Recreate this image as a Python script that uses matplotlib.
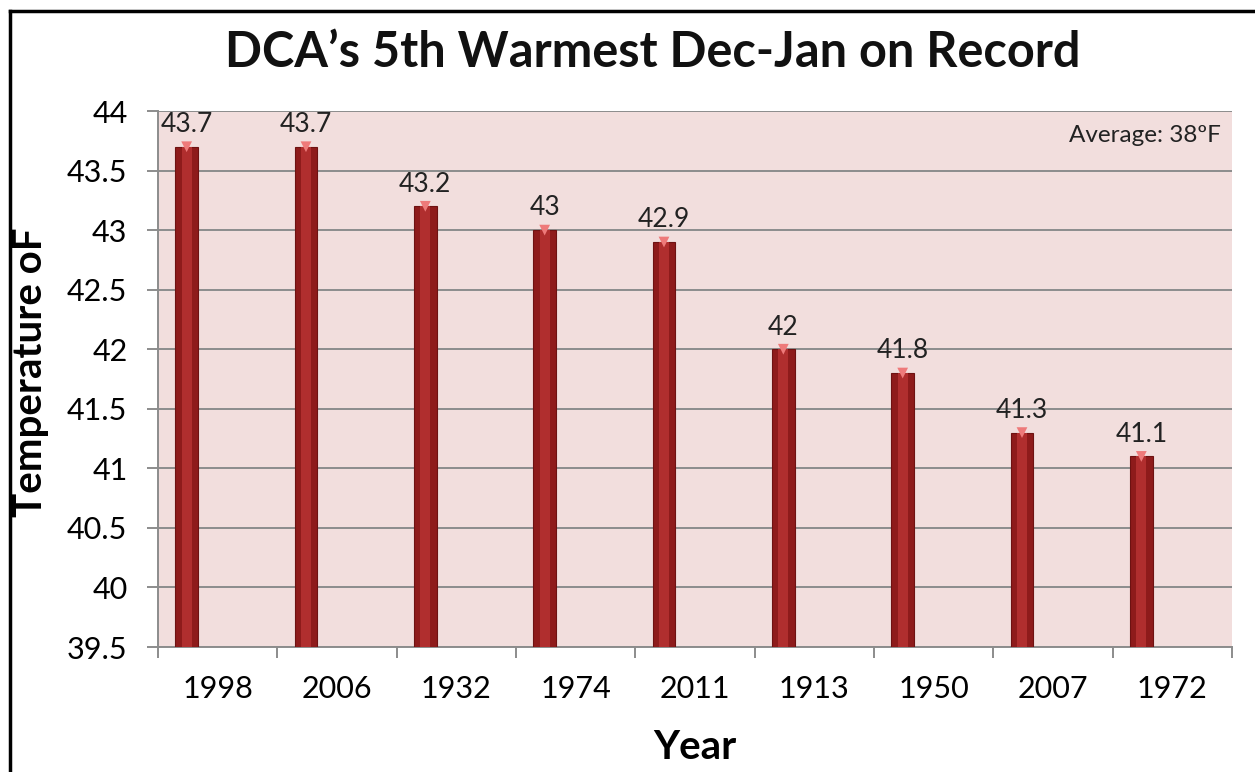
import numpy as np
import matplotlib
matplotlib.use("Agg")
import matplotlib.pyplot as plt
from matplotlib.lines import Line2D

plt.rcParams['font.family'] = ['Lato', 'DejaVu Sans']

# data
years = ["1998", "2006", "1932", "1974", "2011", "1913", "1950", "2007", "1972"]
temps = [43.7, 43.7, 43.2, 43.0, 42.9, 42.0, 41.8, 41.3, 41.1]
labels = ["43.7", "43.7", "43.2", "43", "42.9", "42", "41.8", "41.3", "41.1"]
y_ticks = [39.5, 40, 40.5, 41, 41.5, 42, 42.5, 43, 43.5, 44]

BASE = 39.5
BAR_W = 0.19
SHIFT = -0.26   # bars sit left of the category centre (Excel clustered look)

fig = plt.figure(figsize=(12.55, 7.72), dpi=100)
ax = fig.add_axes([0.1259, 0.1619, 0.8558, 0.6943])
ax.set_facecolor("#F2DEDD")

x = np.arange(len(years))
xb = x + SHIFT
heights = [t - BASE for t in temps]

# cylinder-ish look: dark outer bar, lighter centre stripe, pink cap
ax.bar(xb, heights, bottom=BASE, width=BAR_W, color="#8E1B1B",
       edgecolor="#6E1212", linewidth=0.8, zorder=3)
ax.bar(xb, heights, bottom=BASE, width=BAR_W * 0.45, color="#B02E2E",
       linewidth=0, zorder=4)
ax.scatter(xb, temps, marker="v", s=60, color="#EE7A7A", edgecolors="none",
           zorder=5, clip_on=False)

for xi, t, lab in zip(xb, temps, labels):
    ax.annotate(lab, (xi, t), xytext=(0, 7), textcoords="offset points",
                ha="center", va="bottom", fontsize=19, color="#222222")

ax.set_xlim(-0.5, len(years) - 0.5)
ax.set_ylim(39.5, 44)
ax.set_yticks(y_ticks)
ax.set_yticklabels([f"{v:g}" for v in y_ticks], fontsize=22)
ax.yaxis.grid(True, color="#8C8C8C", linewidth=1.4, zorder=1)
ax.set_axisbelow(True)

ax.set_xticks(x)
ax.set_xticklabels(years, fontsize=22)
ax.set_xticks(np.arange(-0.5, len(years)), minor=True)
ax.tick_params(axis="x", which="major", length=0, pad=20)
ax.tick_params(axis="x", which="minor", length=8, color="#8C8C8C", width=1.4)
ax.tick_params(axis="y", length=8, color="#8C8C8C", width=1.4, pad=14)

for side in ["top", "right"]:
    ax.spines[side].set_visible(False)
for side in ["left", "bottom"]:
    ax.spines[side].set_color("#8C8C8C")
    ax.spines[side].set_linewidth(1.4)

ax.set_xlabel("Year", fontsize=29, fontweight="bold", labelpad=19)
ax.set_ylabel("Temperature oF", fontsize=29, fontweight="bold",
              va="center")
ax.yaxis.set_label_coords(-0.119, 0.513)

ax.text(0.99, 0.955, "Average: 38ºF", transform=ax.transAxes,
        ha="right", va="center", fontsize=17.5, color="#222222")

fig.text(0.52, 0.932, "DCA’s 5th Warmest Dec-Jan on Record", ha="center",
         va="center", fontsize=35, fontweight="bold", color="#111111")

# outer frame (only top and left visible in the original crop)
fig.add_artist(Line2D([0.008, 1.0], [0.986, 0.986], transform=fig.transFigure,
                      color="black", linewidth=2.5))
fig.add_artist(Line2D([0.008, 0.008], [0.0, 0.986], transform=fig.transFigure,
                      color="black", linewidth=2.5))

fig.savefig("out.png", dpi=100)
